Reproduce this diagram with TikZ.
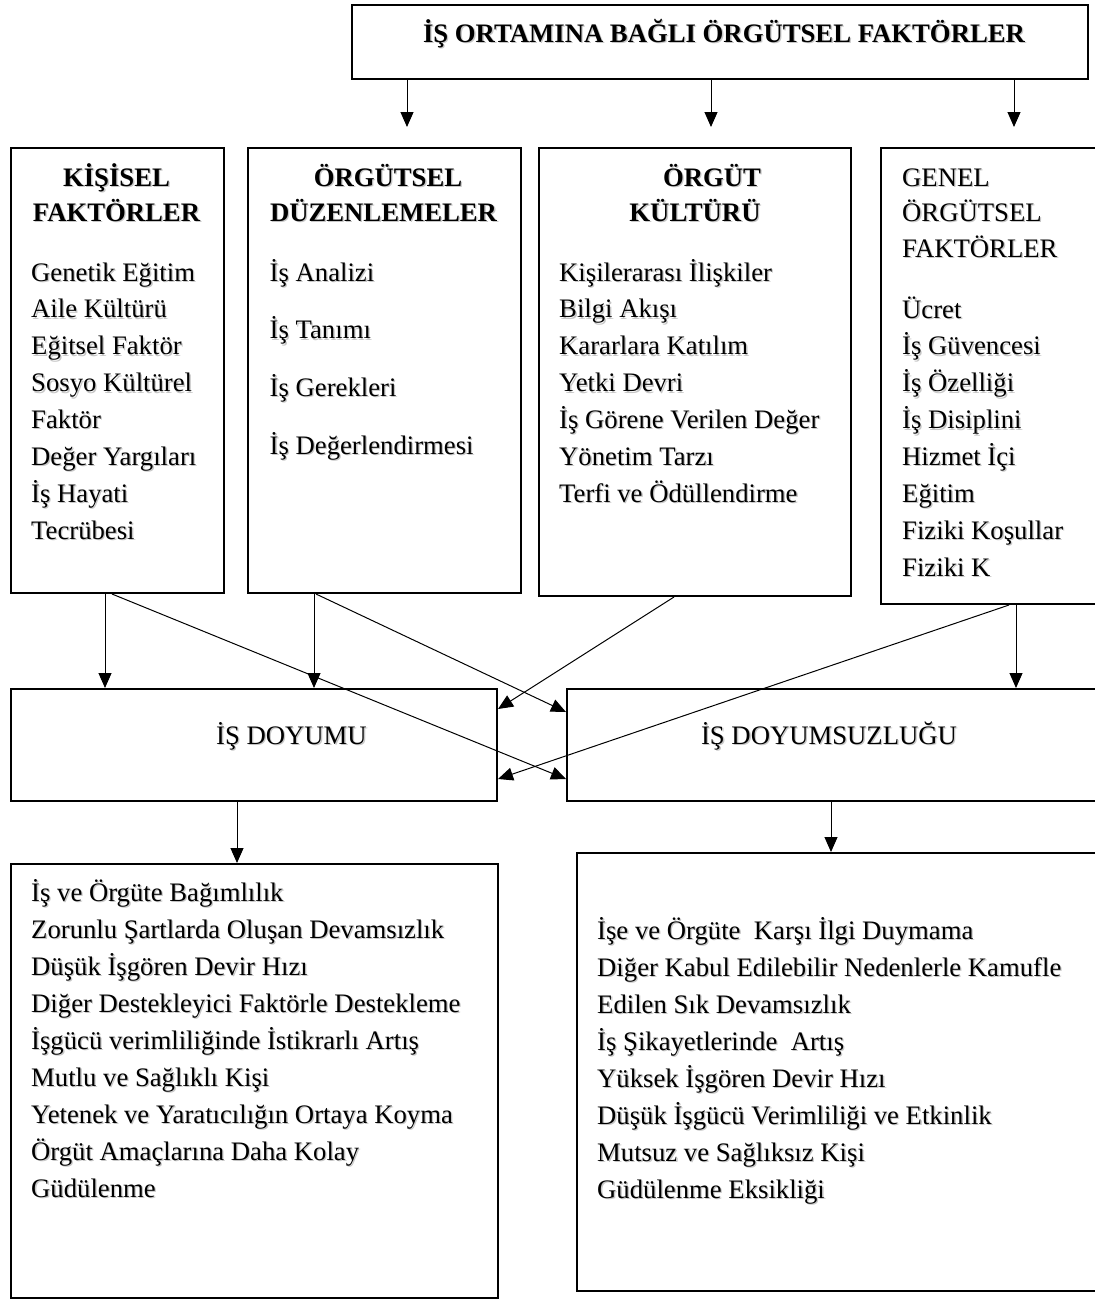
\documentclass[tikz,border=0pt]{standalone}
\usepackage{fontspec}
\setmainfont{Liberation Serif}
\usetikzlibrary{arrows.meta}

% text with a soft grey drop shadow
\newcommand\shtxt[1]{\leavevmode\rlap{\kern1.3pt\raisebox{-1.3pt}{\color{black!22}#1}}#1}

\begin{document}
\begin{tikzpicture}[x=1pt,y=-1pt,
  box/.style={draw, line width=2pt, rectangle, inner sep=0pt, anchor=north west},
  arr/.style={line width=1pt, -{Triangle[length=15pt,width=13pt]}},
  txt/.style={inner sep=0pt, anchor=base west, font=\fontsize{26.7}{30}\selectfont},
  ctxt/.style={inner sep=0pt, anchor=base, font=\fontsize{26.7}{30}\selectfont},
  ttl/.style={inner sep=0pt, anchor=base, font=\fontsize{26.7}{30}\selectfont\bfseries},
]
\fill[white] (0,0) rectangle (1095,1299);
\useasboundingbox (0,0) rectangle (1095,1299);

% ---- boxes ----
\node[box, minimum width=736pt, minimum height=74pt]  (top)  at (351,4) {};
\node[box, minimum width=213pt, minimum height=445pt] (kis)  at (10,147) {};
\node[box, minimum width=273pt, minimum height=445pt] (duz)  at (247,147) {};
\node[box, minimum width=312pt, minimum height=448pt] (kul)  at (538,147) {};
\node[box, minimum width=222pt, minimum height=456pt] (gen)  at (880,147) {};
\node[box, minimum width=486pt, minimum height=112pt] (doy)  at (10,688) {};
\node[box, minimum width=536pt, minimum height=112pt] (dsz)  at (566,688) {};
\node[box, minimum width=487pt, minimum height=434pt] (sonA) at (10,863) {};
\node[box, minimum width=526pt, minimum height=438pt] (sonB) at (576,852) {};

% ---- headings ----
\node[ttl] (title) at (724,42) {\shtxt{İŞ ORTAMINA BAĞLI ÖRGÜTSEL FAKTÖRLER}};
\node[ttl] (kis-h1) at (116.5,186) {\shtxt{KİŞİSEL}};
\node[ttl] (kis-h2) at (116.5,221) {\shtxt{FAKTÖRLER}};
\node[ttl] (duz-h1) at (388,186) {\shtxt{ÖRGÜTSEL}};
\node[ttl] (duz-h2) at (383.5,221) {\shtxt{DÜZENLEMELER}};
\node[ttl] (kul-h1) at (712,186) {\shtxt{ÖRGÜT}};
\node[ttl] (kul-h2) at (695,221) {\shtxt{KÜLTÜRÜ}};
\node[txt] (gen-h1) at (902,186) {\shtxt{GENEL}};
\node[txt] (gen-h2) at (902,221) {\shtxt{ÖRGÜTSEL}};
\node[txt] (gen-h3) at (902,257) {\shtxt{FAKTÖRLER}};
\node[ctxt] (doy-t) at (291.5,744) {\shtxt{İŞ DOYUMU}};
\node[ctxt] (dsz-t) at (829,744) {\shtxt{İŞ DOYUMSUZLUĞU}};

% ---- lists ----
\foreach \t [count=\i from 0] in {Genetik Eğitim, Aile Kültürü, Eğitsel Faktör,
  Sosyo Kültürel, Faktör, Değer Yargıları, İş Hayati, Tecrübesi}
  \node[txt] (kis-\i) at (31,281+36.9*\i) {\shtxt{\t}};
\foreach \t [count=\i from 0] in {İş Analizi, İş Tanımı, İş Gerekleri, İş Değerlendirmesi}
  \node[txt] (duz-\i) at (269.5,281+57.7*\i) {\shtxt{\t}};
\foreach \t [count=\i from 0] in {Kişilerarası İlişkiler, Bilgi Akışı, Kararlara Katılım,
  Yetki Devri, İş Görene Verilen Değer, Yönetim Tarzı, Terfi ve Ödüllendirme}
  \node[txt] (kul-\i) at (559,281+36.9*\i) {\shtxt{\t}};
\foreach \t [count=\i from 0] in {Ücret, İş Güvencesi, İş Özelliği, İş Disiplini,
  Hizmet İçi, Eğitim, Fiziki Koşullar, Fiziki K}
  \node[txt] (gen-\i) at (902,318+36.9*\i) {\shtxt{\t}};
\foreach \t [count=\i from 0] in {İş ve Örgüte Bağımlılık,
  Zorunlu Şartlarda Oluşan Devamsızlık, Düşük İşgören Devir Hızı,
  Diğer Destekleyici Faktörle Destekleme, İşgücü verimliliğinde İstikrarlı Artış,
  Mutlu ve Sağlıklı Kişi, Yetenek ve Yaratıcılığın Ortaya Koyma,
  Örgüt Amaçlarına Daha Kolay, Güdülenme}
  \node[txt] (sonA-\i) at (31,901+37*\i) {\shtxt{\t}};
\foreach \t [count=\i from 0] in {İşe ve Örgüte~ Karşı İlgi Duymama,
  Diğer Kabul Edilebilir Nedenlerle Kamufle, Edilen Sık Devamsızlık,
  İş Şikayetlerinde~ Artış, Yüksek İşgören Devir Hızı,
  Düşük İşgücü Verimliliği ve Etkinlik, Mutsuz ve Sağlıksız Kişi, Güdülenme Eksikliği}
  \node[txt] (sonB-\i) at (597,939+37*\i) {\shtxt{\t}};

% ---- connectors ----
\coordinate (e1) at (407,127);
\coordinate (e2) at (711,127);
\coordinate (e3) at (1014,127);
\draw[arr] (top.south -| e1) -- (e1);
\draw[arr] (top.south -| e2) -- (e2);
\draw[arr] (top.south -| e3) -- (e3);

\draw[arr] (kis.south -| 105,0) -- (doy.north -| 105,0);
\draw[arr] (duz.south -| 314,0) -- (doy.north -| 314,0);
\draw[arr] (gen.south -| 1016,0) -- (dsz.north -| 1016,0);
\draw[arr] (kis.south -| 112,0) -- (dsz.west |- 0,779);
\draw[arr] (duz.south -| 316,0) -- (dsz.west |- 0,712);
\draw[arr] (kul.south -| 674,0) -- (doy.east |- 0,709);
\draw[arr] (gen.south -| 1009,0) -- (doy.east |- 0,779);
\draw[arr] (doy.south -| 237,0) -- (sonA.north -| 237,0);
\draw[arr] (dsz.south -| 831,0) -- (sonB.north -| 831,0);
\end{tikzpicture}
\end{document}
